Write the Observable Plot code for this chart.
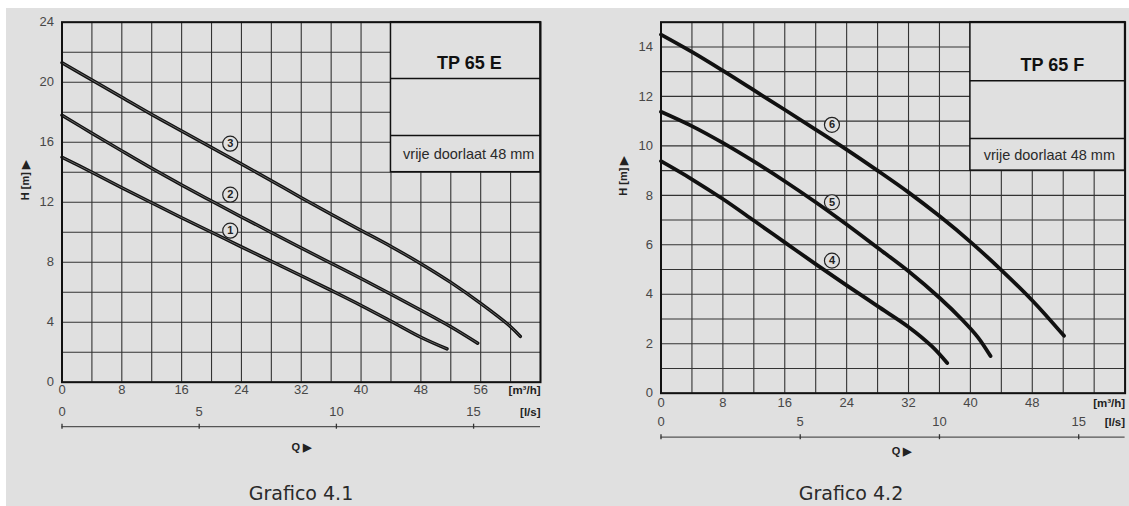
<!DOCTYPE html>
<html>
<head>
<meta charset="utf-8">
<script src="https://cdn.jsdelivr.net/npm/d3@7"></script>
<script src="https://cdn.jsdelivr.net/npm/@observablehq/plot@0.6"></script>
<style>
  html, body { margin: 0; padding: 0; width: 1129px; height: 506px; overflow: hidden; background: #ffffff; }
  #page { position: absolute; left: 6px; top: 8px; width: 1123px; height: 498px; background: #e0e0e0; }
  #c1 { position: absolute; left: 0; top: 0; }
  #c2 { position: absolute; left: 560px; top: 0; }
  .cap { position: absolute; top: 484px; line-height: 19px; font-family: "DejaVu Sans", Verdana, sans-serif;
         font-size: 19px; color: #2a2a2a; transform: translateX(-50%); white-space: nowrap; }
</style>
</head>
<body>
<div id="page"></div>
<div id="c1"></div>
<div id="c2"></div>
<div class="cap" style="left:301px">Grafico 4.1</div>
<div class="cap" style="left:851px">Grafico 4.2</div>
<script>
// ---------- Grafico 4.1 : TP 65 E ----------
const qE1 = [0, 4, 8, 12, 16, 20, 24, 28, 32, 36, 40, 44, 48, 51.5];
const hE1 = [15.0, 14.0, 12.97, 11.96, 10.97, 10.0, 9.02, 8.06, 7.1, 6.12, 5.12, 4.07, 3.0, 2.22];
const qE2 = [0, 4, 8, 12, 16, 20, 24, 28, 32, 36, 40, 44, 48, 52, 55.6];
const hE2 = [17.8, 16.6, 15.42, 14.26, 13.15, 12.08, 11.02, 9.98, 8.95, 7.93, 6.91, 5.87, 4.8, 3.7, 2.6];
const qE3 = [0, 4, 8, 12, 16, 20, 24, 28, 32, 36, 40, 44, 48, 52, 56, 60, 61.3];
const hE3 = [21.3, 20.15, 19.0, 17.85, 16.75, 15.65, 14.55, 13.43, 12.3, 11.2, 10.12, 9.05, 7.9, 6.65, 5.25, 3.7, 3.05];
const labelsE = ["1", "2", "3"];
const labelQE = [22.5, 22.5, 22.5];
const labelHE = [10.1, 12.5, 15.9];
const xTicksE = [0, 8, 16, 24, 32, 40, 48, 56];
const xGridE = [0, 4, 8, 12, 16, 20, 24, 28, 32, 36, 40, 44, 48, 52, 56, 60, 64];
const yTicksE = [0, 4, 8, 12, 16, 20, 24];
const yGridE = [0, 2, 4, 6, 8, 10, 12, 14, 16, 18, 20, 22, 24];
const lsTicksE = [0, 5, 10, 15];
const titleE = "TP 65 E";
const boxE = {q1: 44, q2: 64, h1: 14, h2: 24, rows: [20.25, 16.45], titleQ: 54.5, titleH: 21.25, noteQ: 54.4, noteH: 15.2};

// ---------- Grafico 4.2 : TP 65 F ----------
const qF4 = [0, 4, 8, 12, 16, 20, 24, 28, 32, 35, 37];
const hF4 = [9.38, 8.65, 7.85, 6.98, 6.1, 5.22, 4.36, 3.52, 2.68, 1.9, 1.22];
const qF5 = [0, 4, 8, 12, 16, 20, 24, 28, 32, 36, 39, 41, 42.6];
const hF5 = [11.38, 10.8, 10.12, 9.37, 8.57, 7.72, 6.82, 5.88, 4.93, 3.86, 2.95, 2.25, 1.5];
const qF6 = [0, 4, 8, 12, 16, 20, 24, 28, 32, 36, 40, 44, 48, 52.1];
const hF6 = [14.5, 13.8, 13.04, 12.25, 11.46, 10.66, 9.85, 9.0, 8.12, 7.16, 6.12, 4.98, 3.75, 2.32];
const labelsF = ["4", "5", "6"];
const labelQF = [22.1, 22.1, 22.1];
const labelHF = [5.36, 7.72, 10.85];
const xTicksF = [0, 8, 16, 24, 32, 40, 48];
const xGridF = [0, 4, 8, 12, 16, 20, 24, 28, 32, 36, 40, 44, 48, 52, 56, 60];
const yTicksF = [0, 2, 4, 6, 8, 10, 12, 14];
const yGridF = [0, 1, 2, 3, 4, 5, 6, 7, 8, 9, 10, 11, 12, 13, 14, 15];
const lsTicksF = [0, 5, 10, 15];
const titleF = "TP 65 F";
const boxF = {q1: 40, q2: 60, h1: 9, h2: 15, rows: [12.63, 10.3], titleQ: 50.6, titleH: 13.26, noteQ: 50.2, noteH: 9.62};

const noteText = "vrije doorlaat 48 mm";
const unitQ = "[m³/h]";
const unitL = "[l/s]";
const qLabel = "Q ▶";
const hLabel = "H [m] ▶";

const BG = "#e0e0e0";
const GRID = "#333333";
const INK = "#111111";
const TICK = "#474747";
const FONT = "'Liberation Sans', Arial, Helvetica, sans-serif";

function series(id, qs, hs) { return qs.map((q, i) => ({id, q, h: hs[i]})); }
function labels(ids, qs, hs) { return ids.map((id, i) => ({id, q: qs[i], h: hs[i]})); }

function chart(cfg) {
  const m = cfg.margins;
  const marks = [
    Plot.ruleX(cfg.xGrid, {stroke: GRID, strokeWidth: 1.1}),
    Plot.ruleY(cfg.yGrid, {stroke: GRID, strokeWidth: 1.1}),
    Plot.rect([cfg.box], {x1: "q1", x2: "q2", y1: "h1", y2: "h2", fill: BG, stroke: INK, strokeWidth: 1.5}),
    Plot.ruleY(cfg.box.rows, {x1: cfg.box.q1, x2: cfg.box.q2, stroke: INK, strokeWidth: 1.5}),
    Plot.text([cfg.title], {x: cfg.box.titleQ, y: cfg.box.titleH, text: d => d, fontSize: 18, fontWeight: "bold", fill: INK}),
    Plot.text([noteText], {x: cfg.box.noteQ, y: cfg.box.noteH, text: d => d, fontSize: 14.5, fill: "#2a2a2a"}),
  ];
  if (cfg.doubleLine) {
    marks.push(Plot.line(cfg.data, {x: "q", y: "h", z: "id", stroke: INK, strokeWidth: 3.4, curve: "catmull-rom"}));
    marks.push(Plot.line(cfg.data, {x: "q", y: "h", z: "id", stroke: "#7a7a7a", strokeWidth: 0.8, curve: "catmull-rom"}));
  } else {
    marks.push(Plot.line(cfg.data, {x: "q", y: "h", z: "id", stroke: INK, strokeWidth: 3.8, curve: "catmull-rom", strokeLinecap: "round"}));
  }
  marks.push(
    Plot.dot(cfg.labels, {x: "q", y: "h", r: 7.5, fill: BG, stroke: "#222", strokeWidth: 1.2}),
    Plot.text(cfg.labels, {x: "q", y: "h", text: "id", fontSize: 11, fontWeight: "bold", fill: "#222"}),
    Plot.frame({stroke: INK, strokeWidth: 2}),
    Plot.text(cfg.yTicks, {frameAnchor: "left", y: d => d, text: d => String(d), dx: -8, textAnchor: "end", fontSize: 13, fill: TICK}),
    Plot.text(cfg.xTicks, {frameAnchor: "bottom", x: d => d, text: d => String(d), dy: cfg.xLabelDy, fontSize: 13, fill: TICK}),
    Plot.text([unitQ], {frameAnchor: "bottom-right", text: d => d, dy: cfg.xLabelDy, textAnchor: "end", fontSize: 11.5, fontWeight: "bold", fill: "#222"}),
    Plot.ruleY([0], {dy: cfg.lsLineDy, stroke: "#555", strokeWidth: 1.3}),
    Plot.ruleX(cfg.lsTicks, {x: d => d * cfg.lsFactor, y1: 0, y2: 0, insetTop: -2.5, insetBottom: -2.5, dy: cfg.lsLineDy, stroke: "#333", strokeWidth: 1.3}),
    Plot.text(cfg.lsTicks, {frameAnchor: "bottom", x: d => d * cfg.lsFactor, text: d => String(d), dy: cfg.lsLabelDy, fontSize: 13, fill: TICK}),
    Plot.text([unitL], {frameAnchor: "bottom-right", text: d => d, dy: cfg.lsLabelDy, textAnchor: "end", fontSize: 11.5, fontWeight: "bold", fill: "#222"}),
    Plot.text([qLabel], {frameAnchor: "bottom", text: d => d, dy: cfg.qDy, dx: cfg.qDx, fontSize: 11, fontWeight: "bold", fill: "#222"}),
    Plot.text([hLabel], {frameAnchor: "left", text: d => d, dx: cfg.hDx, dy: cfg.hDy, rotate: -90, fontSize: 11, fontWeight: "bold", fill: "#222"})
  );
  return Plot.plot({
    width: cfg.width, height: 460,
    marginLeft: m[0], marginRight: m[1], marginTop: m[2], marginBottom: m[3],
    x: {domain: cfg.xDomain, axis: null},
    y: {domain: cfg.yDomain, axis: null},
    style: {background: "transparent", overflow: "visible", fontFamily: FONT},
    marks
  });
}

const dataE = [...series("1", qE1, hE1), ...series("2", qE2, hE2), ...series("3", qE3, hE3)];
const dataF = [...series("4", qF4, hF4), ...series("5", qF5, hF5), ...series("6", qF6, hF6)];

document.getElementById("c1").append(chart({
  width: 560, margins: [61.5, 20, 21.7, 78.3],
  xDomain: [0, 64], yDomain: [0, 24],
  data: dataE, labels: labels(labelsE, labelQE, labelHE), doubleLine: true,
  xGrid: xGridE, yGrid: yGridE, xTicks: xTicksE, yTicks: yTicksE,
  lsTicks: lsTicksE, lsFactor: 3.67,
  box: boxE, title: titleE,
  xLabelDy: 11.5, lsLineDy: 44.5, lsLabelDy: 33.5, qDy: 68.5, qDx: 0, hDx: -36.5, hDy: -2
}));

document.getElementById("c2").append(chart({
  width: 569, margins: [100.5, 4.4, 21.7, 67.3],
  xDomain: [0, 60], yDomain: [0, 15],
  data: dataF, labels: labels(labelsF, labelQF, labelHF), doubleLine: false,
  xGrid: xGridF, yGrid: yGridF, xTicks: xTicksF, yTicks: yTicksF,
  lsTicks: lsTicksF, lsFactor: 3.6,
  box: boxF, title: titleF,
  xLabelDy: 14, lsLineDy: 44, lsLabelDy: 32.5, qDy: 61.5, qDx: 8.5, hDx: -37.5, hDy: -12
}));
</script>
</body>
</html>
